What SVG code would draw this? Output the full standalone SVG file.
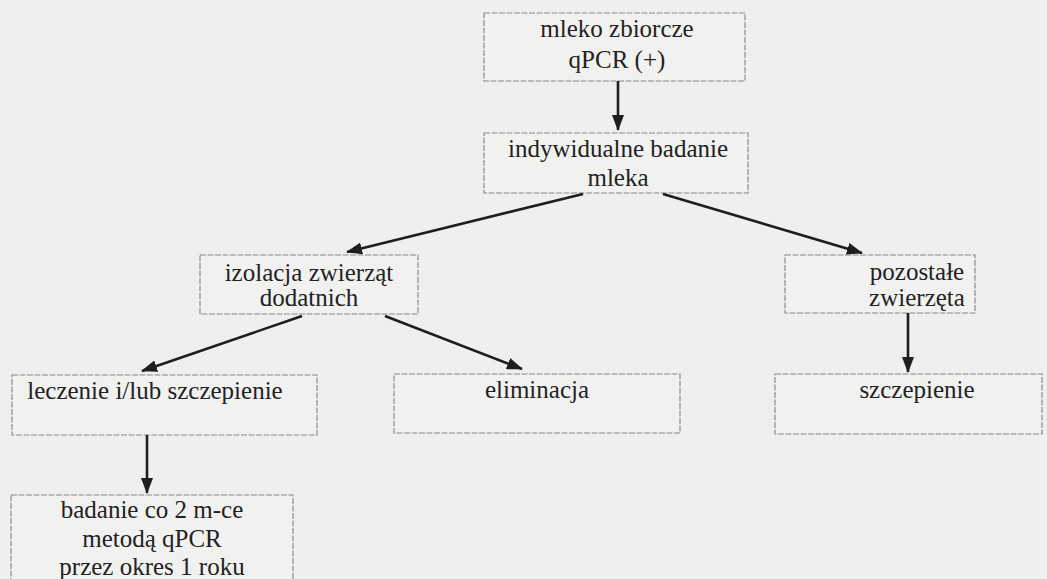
<svg xmlns="http://www.w3.org/2000/svg" width="1047" height="579" viewBox="0 0 1047 579">
<defs>
<marker id="ah" viewBox="0 0 16 12" refX="15" refY="6" markerWidth="16" markerHeight="12" markerUnits="userSpaceOnUse" orient="auto">
<path d="M0,0 L16,6 L0,12 Z" fill="#1e1e1e"/>
</marker>
<style>
.box{fill:#f1f1f0;stroke:#8a8a8a;stroke-width:1.2;stroke-dasharray:6 1.5}
.t{font-size:25px;fill:#222;text-anchor:middle}
.c{stroke:#1e1e1e;stroke-width:2.6;fill:none;marker-end:url(#ah)}
</style>
</defs>
<rect width="1047" height="579" fill="#efefee"/>
<g font-family="Liberation Serif, DejaVu Serif, serif">
<g id="n1"><rect class="box" x="484" y="13" width="261" height="68"/><text class="t" x="617" y="37">mleko zbiorcze</text><text class="t" x="617" y="68">qPCR (+)</text></g>
<g id="n2"><rect class="box" x="484" y="133" width="264" height="60"/><text class="t" x="618" y="157">indywidualne badanie</text><text class="t" x="618" y="186">mleka</text></g>
<g id="n3"><rect class="box" x="200" y="255" width="218" height="59"/><text class="t" x="309" y="281">izolacja zwierząt</text><text class="t" x="309" y="306">dodatnich</text></g>
<g id="n4"><rect class="box" x="785" y="255" width="190" height="58"/><text class="t" x="917" y="280">pozostałe</text><text class="t" x="917" y="306">zwierzęta</text></g>
<g id="n5"><rect class="box" x="12" y="375" width="305" height="60"/><text class="t" x="155" y="399">leczenie i/lub szczepienie</text></g>
<g id="n6"><rect class="box" x="394" y="374" width="286" height="59"/><text class="t" x="537" y="398">eliminacja</text></g>
<g id="n7"><rect class="box" x="775" y="374" width="267" height="60"/><text class="t" x="917" y="398">szczepienie</text></g>
<g id="n8"><rect class="box" x="11" y="495" width="282" height="100"/><text class="t" x="152" y="518">badanie co 2 m-ce</text><text class="t" x="152" y="547">metodą qPCR</text><text class="t" x="152" y="575">przez okres 1 roku</text></g>
</g>
<g id="connectors">
<line class="c" x1="618" y1="81" x2="618" y2="130"/>
<line class="c" x1="583" y1="194" x2="347" y2="252"/>
<line class="c" x1="663" y1="194" x2="862" y2="253"/>
<line class="c" x1="302" y1="316" x2="142" y2="371"/>
<line class="c" x1="385" y1="316" x2="522" y2="369"/>
<line class="c" x1="908" y1="313" x2="908" y2="372"/>
<line class="c" x1="147" y1="435" x2="147" y2="493"/>
</g>
</svg>
